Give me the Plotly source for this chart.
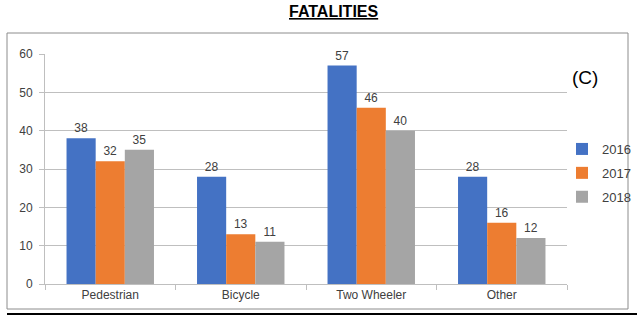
import plotly.graph_objects as go

categories = ["Pedestrian", "Bicycle", "Two Wheeler", "Other"]
years = ["2016", "2017", "2018"]
v2016 = [38, 28, 57, 28]
v2017 = [32, 13, 46, 16]
v2018 = [35, 11, 40, 12]
colors = ["#4472C4", "#ED7D31", "#A5A5A5"]

W, H = 642, 328
L, R, T, B = 45, 75, 54, 44
pw, ph = W - L - R, H - T - B

def px(x):
    return (x - L) / pw

def py(y):
    return (H - B - y) / ph

fig = go.Figure()
for name, vals, c in zip(years, [v2016, v2017, v2018], colors):
    fig.add_trace(go.Bar(
        x=categories, y=vals, name=name, legendgroup=name,
        marker=dict(color=c, line=dict(width=0)),
        text=[str(v) for v in vals], textposition="outside",
        textfont=dict(size=12, color="#404040"), cliponaxis=False,
    ))

font = "Liberation Sans, Arial, sans-serif"
fig.update_layout(
    width=W, height=H, margin=dict(l=L, r=R, t=T, b=B, autoexpand=False),
    paper_bgcolor="white", plot_bgcolor="white",
    barmode="group", bargap=0.33, bargroupgap=0,
    font=dict(family=font, size=12, color="#404040"),
    showlegend=True,
    legend=dict(x=px(562), y=py(134), xanchor="left", yanchor="top",
                font=dict(size=13, color="#404040"), itemwidth=30,
                tracegroupgap=4, bgcolor="rgba(0,0,0,0)"),
    xaxis=dict(showline=True, linecolor="#BFBFBF", linewidth=1,
               ticks="outside", tickson="boundaries", tickcolor="#BFBFBF",
               ticklen=5, showgrid=False, tickfont=dict(size=12, color="#404040")),
    yaxis=dict(range=[0, 60], dtick=10, showline=True, linecolor="#BFBFBF",
               ticks="outside", ticklen=5, tickcolor="#BFBFBF",
               gridcolor="#BFBFBF", gridwidth=1, zeroline=False,
               ticklabelstandoff=4,
               tickfont=dict(size=12, color="#404040")),
    shapes=[
        dict(type="rect", xref="paper", yref="paper",
             x0=px(7), x1=px(628), y0=py(309), y1=py(33),
             line=dict(color="#8C8C8C", width=1)),
        dict(type="line", xref="paper", yref="paper",
             x0=px(7), x1=px(637), y0=py(314), y1=py(314),
             line=dict(color="black", width=2)),
    ],
    annotations=[
        dict(text="<b><u>FATALITIES</u></b>", xref="paper", yref="paper",
             x=px(334), y=py(12), xanchor="center", yanchor="middle",
             showarrow=False, font=dict(size=16, color="black", family=font)),
        dict(text="(C)", xref="paper", yref="paper",
             x=px(585), y=py(78), xanchor="center", yanchor="middle",
             showarrow=False, font=dict(size=19, color="black", family=font)),
    ],
)

fig.write_html("out.html")
